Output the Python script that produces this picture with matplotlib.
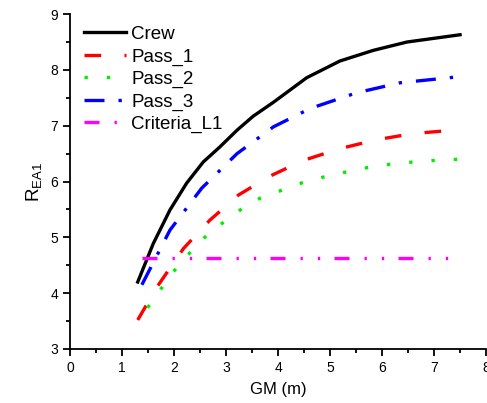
import matplotlib
matplotlib.use("Agg")
import matplotlib.pyplot as plt
from matplotlib.ticker import MultipleLocator

plt.rcParams['font.family'] = ['Liberation Sans', 'DejaVu Sans']

gm_crew = [1.3, 1.6, 1.92, 2.24, 2.56, 2.88, 3.21, 3.52, 3.91, 4.55, 5.19, 5.83, 6.48, 7.5]
crew = [4.2, 4.89, 5.49, 5.97, 6.35, 6.62, 6.92, 7.17, 7.42, 7.86, 8.16, 8.35, 8.5, 8.63]

gm_p1 = [1.3, 1.67, 2.18, 2.69, 3.24, 3.85, 4.49, 5.19, 5.9, 6.6, 7.5]
pass1 = [3.52, 4.11, 4.8, 5.31, 5.76, 6.1, 6.38, 6.59, 6.75, 6.86, 6.93]

gm_p2 = [1.49, 1.75, 2.01, 2.31, 2.62, 2.95, 3.3, 3.65, 4.06, 4.47, 4.87, 5.3, 5.72, 6.15, 6.59, 7.03, 7.5]
pass2 = [3.74, 4.08, 4.41, 4.73, 5.03, 5.27, 5.51, 5.7, 5.84, 5.98, 6.08, 6.17, 6.25, 6.31, 6.35, 6.38, 6.4]

gm_p3 = [1.38, 1.92, 2.53, 3.21, 3.91, 4.62, 5.51, 6.35, 7.5]
pass3 = [4.15, 5.13, 5.88, 6.5, 6.98, 7.31, 7.59, 7.77, 7.88]

gm_crit = [1.39, 7.48]
crit = [4.63, 4.63]

fig = plt.figure(figsize=(4.87, 4.03), dpi=100)
ax = fig.add_axes([0.144, 0.134, 0.854, 0.831])

lw = 2.4
ax.plot(gm_crew, crew, color='black', lw=lw, label='Crew')
ax.plot(gm_p1, pass1, color='red', lw=lw, dashes=(5, 7), label='Pass_1')
ax.plot(gm_p2, pass2, color='#00ee00', lw=lw, dashes=(1, 5.7), label='Pass_2')
ax.plot(gm_p3, pass3, color='blue', lw=lw, dashes=(6, 4.2, 1, 4.2), label='Pass_3')
ax.plot(gm_crit, crit, color='magenta', lw=lw, dashes=(4.5, 4.5, 0.7, 4.5, 0.7, 4.3),
        label='Criteria_L1')

ax.set_xlim(0, 8)
ax.set_ylim(3, 9)
ax.xaxis.set_major_locator(MultipleLocator(1))
ax.xaxis.set_minor_locator(MultipleLocator(0.5))
ax.yaxis.set_major_locator(MultipleLocator(1))
ax.yaxis.set_minor_locator(MultipleLocator(0.5))
ax.spines['top'].set_visible(False)
ax.spines['right'].set_visible(False)
ax.spines['left'].set_linewidth(1.3)
ax.spines['bottom'].set_linewidth(1.3)
ax.tick_params(which='major', direction='out', length=5, width=1.3, labelsize=10)
ax.tick_params(which='minor', direction='out', length=3, width=1.3)

ax.set_xlabel('GM (m)', fontsize=12, labelpad=5)
ax.set_ylabel('R$_{\\mathregular{EA1}}$', fontsize=13.5)

ax.legend(loc='upper left', bbox_to_anchor=(0.034, 0.965), frameon=False,
          fontsize=13.5, handlelength=2.2, handletextpad=0.3, labelspacing=0.28,
          borderpad=0, borderaxespad=0)

fig.savefig('out.png', dpi=100)
